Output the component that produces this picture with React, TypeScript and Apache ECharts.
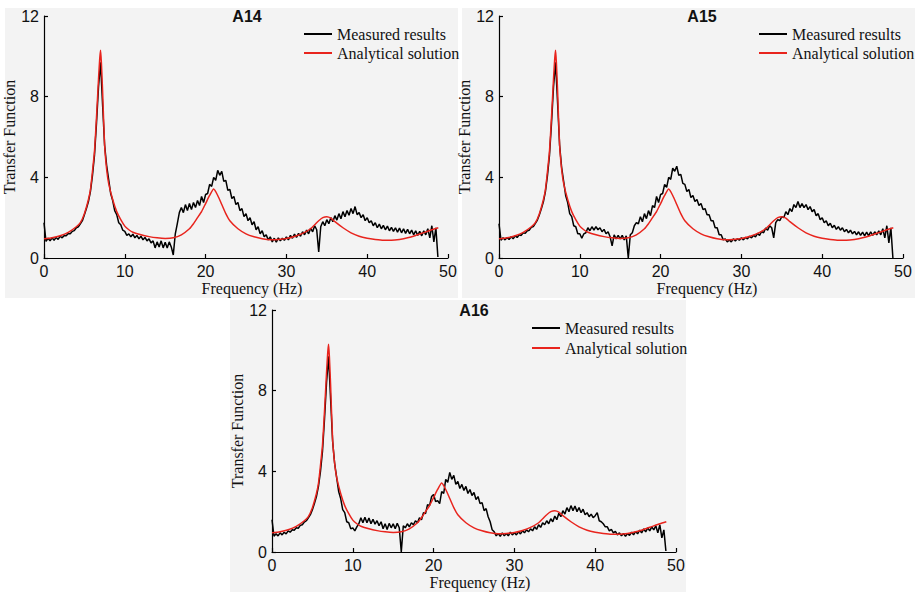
import React, { useEffect, useRef } from "react";
import * as echarts from "echarts";

// ---------- data ----------
const MEASURED_STEP_HZ = 0.25; // measured spectra sampled every 0.25 Hz from 0 Hz

const A14_MEASURED = [
  1.75, 0.82, 0.98, 0.85, 1.0, 0.88, 1.02, 0.92, 1.08, 1.0, 1.12, 1.1, 1.22, 1.2, 1.32, 1.36, 1.5, 1.55, 1.7, 1.85,
  2.15, 2.45, 2.8, 3.3, 4.1, 5.1, 6.7, 8.5, 9.7, 7.6, 5.6, 4.6, 3.9, 3.2, 2.85, 2.35, 2.15, 1.75, 1.65, 1.38,
  1.32, 1.12, 1.2, 1.05, 1.18, 1.0, 1.12, 0.95, 1.08, 0.9, 1.02, 0.85, 0.95, 0.75, 0.85, 0.5, 0.8, 0.55, 0.85, 0.5,
  0.78, 0.5, 0.8, 0.55, 0.15, 1.2, 1.7, 2.25, 2.5, 2.25, 2.65, 2.35, 2.7, 2.4, 2.75, 2.5, 2.85, 2.6, 3.05, 2.75,
  3.15, 3.2, 3.65, 3.55, 4.0, 3.85, 4.35, 4.1, 4.3, 3.8, 3.85, 3.35, 3.4, 2.95, 3.05, 2.65, 2.75, 2.35, 2.45, 2.05,
  2.2, 1.85, 2.0, 1.65, 1.8, 1.4, 1.55, 1.2, 1.35, 1.05, 1.15, 0.9, 1.05, 0.8, 0.98, 0.78, 1.0, 0.85, 0.98, 0.88,
  1.05, 0.9, 1.12, 0.98, 1.18, 1.02, 1.22, 1.08, 1.3, 1.15, 1.38, 1.2, 1.48, 1.3, 1.6, 1.4, 0.3, 1.55, 1.8, 1.6,
  1.9, 1.7, 2.0, 1.8, 2.1, 1.88, 2.2, 1.95, 2.3, 2.05, 2.35, 2.12, 2.45, 2.2, 2.55, 2.15, 2.25, 2.0, 2.15, 1.85,
  2.0, 1.75, 1.85, 1.6, 1.75, 1.5, 1.68, 1.45, 1.62, 1.4, 1.58, 1.35, 1.52, 1.32, 1.5, 1.28, 1.48, 1.25, 1.45, 1.22,
  1.42, 1.2, 1.38, 1.15, 1.35, 1.12, 1.32, 1.1, 1.35, 1.15, 1.45, 1.0, 1.6, 0.8, 1.5, 0.05,
];

const A15_MEASURED = [
  1.7, 0.88, 1.0, 0.9, 1.02, 0.92, 1.05, 0.95, 1.1, 1.02, 1.15, 1.12, 1.25, 1.22, 1.35, 1.38, 1.52, 1.56, 1.72, 1.88,
  2.15, 2.45, 2.8, 3.3, 4.1, 5.1, 6.7, 8.5, 9.7, 7.7, 5.6, 4.5, 3.8, 3.1, 2.75, 2.2, 2.05, 1.6, 1.55, 1.2,
  1.2, 0.98, 1.2, 1.25, 1.5, 1.35, 1.55, 1.38, 1.55, 1.4, 1.5, 1.3, 1.42, 1.2, 1.3, 1.05, 0.6, 1.15, 0.95, 1.12,
  0.95, 1.12, 0.9, 1.1, 0.0, 1.15, 1.25, 1.6, 1.75, 1.7, 2.05, 1.8, 2.2, 1.95, 2.35, 2.1, 2.6, 2.5, 3.05, 2.75,
  3.15, 3.2, 3.65, 3.5, 4.0, 3.9, 4.45, 4.3, 4.55, 4.1, 4.15, 3.7, 3.65, 3.3, 3.4, 3.0, 3.1, 2.8, 2.9, 2.6,
  2.7, 2.4, 2.45, 2.15, 2.15, 1.85, 1.85, 1.5, 1.5, 1.15, 1.15, 0.9, 0.95, 0.8, 0.9, 0.8, 0.95, 0.85, 0.95, 0.88,
  1.0, 0.9, 1.02, 0.95, 1.08, 1.0, 1.12, 1.05, 1.22, 1.12, 1.32, 1.25, 1.48, 1.38, 1.6, 1.5, 1.0, 1.75, 1.9, 1.85,
  2.05, 2.0, 2.3, 2.15, 2.45, 2.3, 2.65, 2.5, 2.8, 2.5, 2.7, 2.5, 2.65, 2.4, 2.55, 2.3, 2.4, 2.1, 2.2, 1.9,
  2.0, 1.75, 1.85, 1.6, 1.72, 1.5, 1.62, 1.42, 1.55, 1.38, 1.5, 1.3, 1.42, 1.25, 1.38, 1.2, 1.32, 1.15, 1.3, 1.12,
  1.28, 1.1, 1.28, 1.1, 1.3, 1.12, 1.3, 1.15, 1.35, 1.15, 1.45, 1.0, 1.6, 0.75, 1.5, 0.0,
];

const A16_MEASURED = [
  1.6, 0.78, 0.9, 0.8, 0.95, 0.85, 0.98, 0.9, 1.05, 0.98, 1.1, 1.08, 1.2, 1.18, 1.32, 1.35, 1.48, 1.55, 1.7, 1.85,
  2.1, 2.4, 2.75, 3.25, 4.0, 5.0, 6.6, 8.4, 9.7, 7.6, 5.5, 4.4, 3.7, 3.0, 2.65, 2.1, 1.95, 1.5, 1.45, 1.15,
  1.2, 1.05, 1.25, 1.4, 1.7, 1.45, 1.72, 1.45, 1.68, 1.4, 1.62, 1.38, 1.55, 1.3, 1.5, 1.15, 1.4, 1.12, 1.42, 1.2,
  1.4, 1.15, 1.42, 1.2, 0.0, 1.3, 1.2, 1.4, 1.25, 1.45, 1.35, 1.55, 1.45, 1.7, 1.6, 1.95, 1.9, 2.35, 2.3, 2.75,
  2.85, 2.5, 2.55, 2.4, 3.0, 2.9, 3.6, 3.45, 3.95, 3.6, 3.8, 3.35, 3.5, 3.15, 3.35, 3.05, 3.25, 2.9, 3.1, 2.8,
  2.95, 2.6, 2.75, 2.4, 2.45, 2.05, 2.15, 1.75, 1.5, 1.1, 1.0, 0.8, 0.92, 0.78, 0.95, 0.8, 0.92, 0.8, 0.98, 0.85,
  0.95, 0.85, 1.0, 0.9, 1.05, 0.95, 1.1, 1.0, 1.15, 1.05, 1.25, 1.12, 1.35, 1.22, 1.45, 1.35, 1.55, 1.4, 1.65, 1.5,
  1.78, 1.6, 1.92, 1.75, 2.05, 1.88, 2.2, 2.0, 2.3, 2.05, 2.28, 2.0, 2.2, 1.95, 2.12, 1.85, 1.95, 1.75, 1.88, 1.7,
  1.8, 1.95, 1.55, 1.5, 1.4, 1.25, 1.25, 1.05, 1.12, 0.95, 1.02, 0.85, 0.95, 0.8, 0.92, 0.78, 0.92, 0.82, 0.98, 0.85,
  1.02, 0.9, 1.08, 0.95, 1.15, 1.0, 1.2, 1.05, 1.25, 1.1, 1.3, 0.95, 1.35, 0.7, 1.1, 0.05,
];

const ANALYTICAL_FREQ = [
  0, 1, 2, 3, 4, 4.5, 5, 5.5, 5.75, 6, 6.25, 6.5, 6.75, 6.9, 7, 7.1, 7.25, 7.5, 7.75, 8,
  8.5, 9, 9.5, 10, 10.5, 11, 12, 13, 14, 15, 16, 17, 18, 18.5, 19, 19.5, 20, 20.5, 21, 21.5,
  22, 22.5, 23, 24, 25, 26, 27, 28, 29, 30, 31, 32, 33, 33.5, 34, 34.5, 35, 35.5, 36, 37,
  38, 39, 40, 41, 42, 43, 44, 45, 46, 47, 48, 48.8,
];
const ANALYTICAL_VALUE = [
  0.95, 1.0, 1.1, 1.27, 1.55, 1.75, 2.2, 2.9, 3.4, 4.3, 5.3, 7.0, 8.9, 9.9, 10.3, 9.7, 8.3, 5.6, 4.4, 3.7,
  2.9, 2.3, 1.9, 1.58, 1.4, 1.28, 1.15, 1.06, 1.0, 0.97, 1.0, 1.15, 1.45, 1.7, 2.0, 2.3, 2.7, 3.1, 3.42, 3.1,
  2.65, 2.2, 1.85, 1.45, 1.2, 1.05, 0.95, 0.9, 0.92, 0.97, 1.07, 1.22, 1.45, 1.65, 1.85, 2.0, 2.05, 1.98, 1.8, 1.5,
  1.25, 1.08, 0.98, 0.92, 0.88, 0.88, 0.92, 1.0, 1.12, 1.26, 1.4, 1.5,
];

const PANEL_TITLES = ["A14", "A15", "A16"];
const SERIES_NAMES = ["Measured results", "Analytical solution"];
const Y_MIN = 0, Y_MAX = 12, Y_INTERVAL = 4;
const X_MIN = 0, X_MAX = 50, X_INTERVAL = 10;

// ---------- layout / style ----------
const SERIF = "'Liberation Serif', 'Times New Roman', serif";
const SANS = "'Liberation Sans', Arial, sans-serif";
const RED = "#e8241d";
const PANEL_BG = "#f3f3f3";

const LAYOUT = [
  { grid: { left: 44, top: 16 }, bg: [5, 8, 453, 290], title: [247, 16], legend: [304, 26], legendGap: 3 },
  { grid: { left: 499, top: 16 }, bg: [462, 8, 453, 290], title: [702, 16], legend: [759, 26], legendGap: 3 },
  { grid: { left: 272, top: 310 }, bg: [230, 300, 456, 292], title: [474, 310], legend: [532, 320], legendGap: 4 },
];
const GRID_W = 404;
const GRID_H = 242;

function measuredPairs(values: number[]) {
  return values.map((v, i) => [i * MEASURED_STEP_HZ, v]);
}
const analyticalPairs = ANALYTICAL_FREQ.map((f, i) => [f, ANALYTICAL_VALUE[i]]);
const MEASURED = [A14_MEASURED, A15_MEASURED, A16_MEASURED];

export default function App() {
  const ref = useRef<HTMLDivElement>(null);
  useEffect(() => {
    if (!ref.current) return;
    const chart = echarts.init(ref.current, undefined, { renderer: "svg" });

    const grids = LAYOUT.map((l) => ({ left: l.grid.left, top: l.grid.top, width: GRID_W, height: GRID_H, containLabel: false }));
    const xAxes = LAYOUT.map((_, i) => ({
      gridIndex: i,
      type: "value",
      min: X_MIN,
      max: X_MAX,
      interval: X_INTERVAL,
      name: "Frequency (Hz)",
      nameLocation: "middle",
      nameGap: 22,
      nameTextStyle: { fontFamily: SERIF, fontSize: 16, color: "#111", padding: [0, 0, 0, 12] },
      axisLine: { show: true, onZero: false, lineStyle: { color: "#000", width: 1.2 } },
      axisTick: { show: true, inside: true, length: 4, lineStyle: { color: "#000", width: 1.2 } },
      axisLabel: { fontFamily: SANS, fontSize: 16, color: "#111", margin: 5 },
      splitLine: { show: false },
    }));
    const yAxes = LAYOUT.map((_, i) => ({
      gridIndex: i,
      type: "value",
      min: Y_MIN,
      max: Y_MAX,
      interval: Y_INTERVAL,
      name: "Transfer Function",
      nameLocation: "middle",
      nameGap: 20,
      nameTextStyle: { fontFamily: SERIF, fontSize: 16, color: "#111" },
      axisLine: { show: true, onZero: false, lineStyle: { color: "#000", width: 1.2 } },
      axisTick: { show: true, inside: true, length: 4, lineStyle: { color: "#000", width: 1.2 } },
      axisLabel: { fontFamily: SANS, fontSize: 16, color: "#111", margin: 5 },
      splitLine: { show: false },
    }));

    const series: any[] = [];
    LAYOUT.forEach((_, i) => {
      series.push({
        name: SERIES_NAMES[0],
        type: "line",
        xAxisIndex: i,
        yAxisIndex: i,
        data: measuredPairs(MEASURED[i]),
        showSymbol: false,
        symbol: "none",
        lineStyle: { color: "#000", width: 1.5 },
        itemStyle: { color: "#000" },
        z: 2,
      });
      series.push({
        name: SERIES_NAMES[1],
        type: "line",
        xAxisIndex: i,
        yAxisIndex: i,
        data: analyticalPairs,
        showSymbol: false,
        symbol: "none",
        smooth: 0.2,
        lineStyle: { color: RED, width: 1.5 },
        itemStyle: { color: RED },
        z: 3,
      });
    });

    const titles = LAYOUT.map((l, i) => ({
      text: PANEL_TITLES[i],
      left: l.title[0],
      top: l.title[1],
      textAlign: "center",
      textVerticalAlign: "middle",
      padding: 0,
      textStyle: { fontFamily: SANS, fontSize: 16, fontWeight: "bold", color: "#111" },
    }));

    const legends = LAYOUT.map((l) => ({
      orient: "vertical",
      left: l.legend[0],
      top: l.legend[1],
      padding: 0,
      icon: "rect",
      itemWidth: 28,
      itemHeight: 2,
      itemGap: l.legendGap,
      selectedMode: false,
      data: SERIES_NAMES,
      textStyle: { fontFamily: SERIF, fontSize: 16, color: "#111" },
    }));

    const graphic = LAYOUT.map((l) => ({
      type: "rect",
      silent: true,
      z: -100,
      shape: { x: l.bg[0], y: l.bg[1], width: l.bg[2], height: l.bg[3] },
      style: { fill: PANEL_BG },
    }));

    chart.setOption({
      animation: false,
      backgroundColor: "#ffffff",
      title: titles,
      legend: legends,
      grid: grids,
      xAxis: xAxes,
      yAxis: yAxes,
      series,
      graphic,
    });
    return () => chart.dispose();
  }, []);
  return <div ref={ref} style={{ position: "absolute", left: 0, top: 0, width: 915, height: 592 }} />;
}
